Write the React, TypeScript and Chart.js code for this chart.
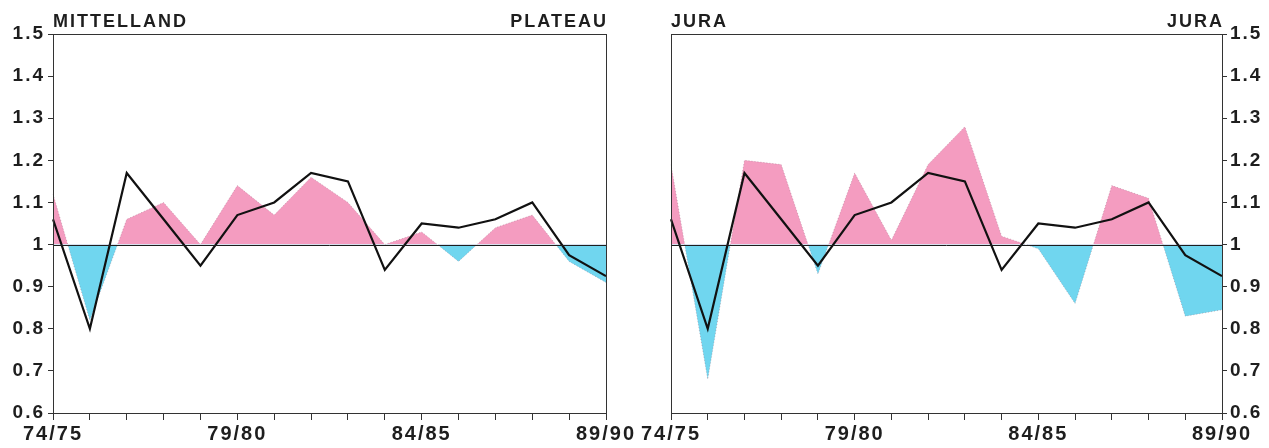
import React, { useEffect, useRef } from 'react';
import { Chart, registerables } from 'chart.js';

Chart.register(...registerables);

// ---------- data ----------
const SEASONS = ['74/75', '75/76', '76/77', '77/78', '78/79', '79/80', '80/81', '81/82', '82/83', '83/84', '84/85', '85/86', '86/87', '87/88', '88/89', '89/90'];
const X_TICK_LABELS = ['74/75', '79/80', '84/85', '89/90'];
const Y_TICKS = [0.6, 0.7, 0.8, 0.9, 1, 1.1, 1.2, 1.3, 1.4, 1.5];
const REFERENCE = 1;

// black line (same index shown in both panels)
const SWISS_INDEX = [1.06, 0.80, 1.17, 1.06, 0.95, 1.07, 1.10, 1.17, 1.15, 0.94, 1.05, 1.04, 1.06, 1.10, 0.975, 0.925];
// coloured areas
const MITTELLAND = [1.12, 0.82, 1.06, 1.10, 1.00, 1.14, 1.07, 1.16, 1.10, 1.00, 1.03, 0.96, 1.04, 1.07, 0.96, 0.91];
const JURA = [1.19, 0.68, 1.20, 1.19, 0.93, 1.17, 1.01, 1.19, 1.28, 1.02, 0.99, 0.86, 1.14, 1.11, 0.83, 0.845];

// ---------- style ----------
const PINK = '#F49CC0';
const BLUE = '#70D6EF';
const INK = '#1e1e1e';
const FONT_FAMILY = "'Liberation Sans', Arial, Helvetica, sans-serif";

const framePlugin = {
  id: 'frame',
  beforeDraw(chart: any) {
    (chart.ctx as any).letterSpacing = '2px';
  },
  afterDatasetsDraw(chart: any) {
    const { ctx, chartArea: a, scales } = chart;
    const y = Math.round(scales.y.getPixelForValue(REFERENCE)) + 0.5;
    ctx.save();
    ctx.strokeStyle = INK;
    ctx.lineWidth = 1;
    ctx.beginPath();
    ctx.moveTo(a.left, y);
    ctx.lineTo(a.right, y);
    ctx.stroke();
    ctx.strokeStyle = '#333';
    ctx.strokeRect(Math.round(a.left) + 0.5, Math.round(a.top) + 0.5, Math.round(a.right - a.left), Math.round(a.bottom - a.top));
    ctx.restore();
  },
};

type PanelProps = {
  left: number;
  width: number;
  values: number[];
  side: 'left' | 'right';
  padding: { left: number; right: number; top: number; bottom: number };
};

function Panel({ left, width, values, side, padding }: PanelProps) {
  const ref = useRef<HTMLCanvasElement>(null);
  useEffect(() => {
    if (!ref.current) return;
    const chart = new Chart(ref.current, {
      type: 'line',
      data: {
        labels: SEASONS,
        datasets: [
          {
            label: 'index',
            data: SWISS_INDEX,
            borderColor: '#111',
            borderWidth: 2.2,
            pointRadius: 0,
            fill: false,
            tension: 0,
            order: 0,
          },
          {
            label: 'region',
            data: values,
            borderColor: 'rgba(150,110,130,0.45)',
            borderWidth: 1,
            borderDash: [1, 2],
            pointRadius: 0,
            tension: 0,
            order: 1,
            fill: { target: { value: REFERENCE }, above: PINK, below: BLUE },
          } as any,
        ],
      },
      options: {
        responsive: false,
        animation: false,
        devicePixelRatio: 1,
        layout: { padding },
        plugins: { legend: { display: false }, tooltip: { enabled: false }, title: { display: false } },
        scales: {
          x: {
            type: 'category',
            offset: false,
            border: { display: false },
            grid: { display: true, drawOnChartArea: false, drawTicks: true, tickLength: 7, color: '#333', lineWidth: 1 },
            ticks: {
              autoSkip: false,
              maxRotation: 0,
              minRotation: 0,
              padding: 2,
              color: INK,
              font: { family: FONT_FAMILY, size: 20, weight: 'bold' },
              callback: function (this: any, val: any, idx: number) {
                const l = SEASONS[idx];
                return X_TICK_LABELS.includes(l) ? l : '';
              },
            },
            afterFit(scale: any) {
              scale.height = 35;
              scale.paddingLeft = 0;
              scale.paddingRight = 0;
            },
          },
          y: {
            type: 'linear',
            position: side,
            min: 0.6,
            max: 1.5,
            border: { display: false },
            grid: { display: true, drawOnChartArea: false, drawTicks: true, tickLength: 5, color: '#333', lineWidth: 1 },
            ticks: {
              padding: 3,
              color: INK,
              font: { family: FONT_FAMILY, size: 19, weight: 'bold' },
              callback: (v: any) => String(Math.round(Number(v) * 10) / 10),
            },
            afterBuildTicks(scale: any) {
              scale.ticks = Y_TICKS.map((v) => ({ value: v }));
            },
            afterFit(scale: any) {
              scale.width = 45;
              scale.paddingTop = 0;
              scale.paddingBottom = 0;
            },
          },
        },
      },
      plugins: [framePlugin],
    } as any);
    return () => chart.destroy();
  }, []);
  return (
    <canvas
      ref={ref}
      width={width}
      height={448}
      style={{ position: 'absolute', left, top: 0, width, height: 448 }}
    />
  );
}

const titleStyle: React.CSSProperties = {
  position: 'absolute',
  top: 11,
  fontFamily: FONT_FAMILY,
  fontWeight: 'bold',
  fontSize: 18,
  lineHeight: '20px',
  letterSpacing: '2px',
  color: INK,
  whiteSpace: 'nowrap',
};

export default function App() {
  return (
    <div style={{ position: 'fixed', left: 0, top: 0, width: 1269, height: 448, background: '#fff', overflow: 'hidden' }}>
      <Panel left={0} width={640} values={MITTELLAND} side="left" padding={{ left: 8, right: 34, top: 34, bottom: 0 }} />
      <Panel left={640} width={629} values={JURA} side="right" padding={{ left: 31, right: 2, top: 34, bottom: 0 }} />
      <div style={{ ...titleStyle, left: 53 }}>MITTELLAND</div>
      <div style={{ ...titleStyle, left: 0, width: 608, textAlign: 'right' }}>PLATEAU</div>
      <div style={{ ...titleStyle, left: 671 }}>JURA</div>
      <div style={{ ...titleStyle, left: 0, width: 1224, textAlign: 'right' }}>JURA</div>
    </div>
  );
}
